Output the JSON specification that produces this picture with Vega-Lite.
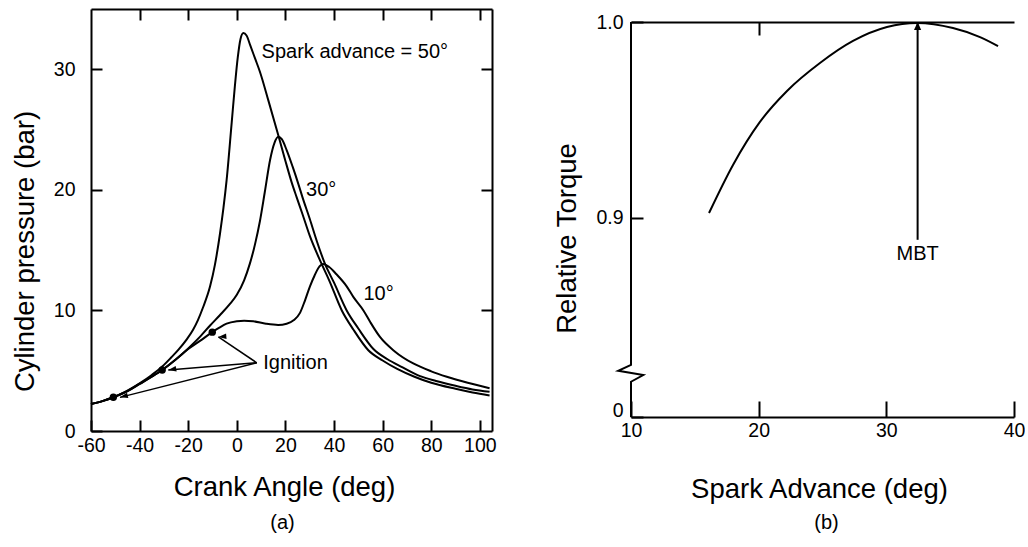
{
  "$schema": "https://vega.github.io/schema/vega-lite/v6.json",
  "background": "white",
  "padding": {"left": 11, "top": 8, "right": 0, "bottom": 0},
  "bounds": "flush",
  "spacing": 139,
  "config": {
    "font": "Liberation Sans",
    "view": {"stroke": null},
    "axis": {"domainColor": "black", "domainWidth": 2, "tickColor": "black", "tickWidth": 2, "labelColor": "black", "labelFont": "Liberation Sans", "labelFontSize": 19.5, "titleFont": "Liberation Sans", "titleFontSize": 27.5, "titleFontWeight": "normal", "titleColor": "black", "grid": false, "labelFlush": false},
    "title": {"font": "Liberation Sans", "fontSize": 20, "fontWeight": "normal", "color": "black"}
  },
  "datasets": {
    "pressure": [
      {"advance": "50°", "crank": -60, "pressure": 2.24}, {"advance": "50°", "crank": -55, "pressure": 2.5}, {"advance": "50°", "crank": -50.8, "pressure": 2.8}, {"advance": "50°", "crank": -45, "pressure": 3.35}, {"advance": "50°", "crank": -40, "pressure": 3.95}, {"advance": "50°", "crank": -35, "pressure": 4.65}, {"advance": "50°", "crank": -30.7, "pressure": 5.35}, {"advance": "50°", "crank": -27, "pressure": 6.1}, {"advance": "50°", "crank": -24, "pressure": 6.75}, {"advance": "50°", "crank": -20.6, "pressure": 7.6}, {"advance": "50°", "crank": -18, "pressure": 8.4}, {"advance": "50°", "crank": -16, "pressure": 9.2}, {"advance": "50°", "crank": -14, "pressure": 10.2}, {"advance": "50°", "crank": -11, "pressure": 12.0}, {"advance": "50°", "crank": -9, "pressure": 13.8}, {"advance": "50°", "crank": -6.9, "pressure": 16.4}, {"advance": "50°", "crank": -5.5, "pressure": 18.5}, {"advance": "50°", "crank": -4.2, "pressure": 20.8}, {"advance": "50°", "crank": -2.1, "pressure": 25.6}, {"advance": "50°", "crank": -0.8, "pressure": 28.6}, {"advance": "50°", "crank": 0.4, "pressure": 31.0}, {"advance": "50°", "crank": 1.5, "pressure": 32.5}, {"advance": "50°", "crank": 2.7, "pressure": 33.0}, {"advance": "50°", "crank": 4, "pressure": 32.8}, {"advance": "50°", "crank": 5.5, "pressure": 32.0}, {"advance": "50°", "crank": 7.5, "pressure": 30.9}, {"advance": "50°", "crank": 9.5, "pressure": 29.8}, {"advance": "50°", "crank": 13, "pressure": 27.4}, {"advance": "50°", "crank": 17.1, "pressure": 24.5}, {"advance": "50°", "crank": 20, "pressure": 22.4}, {"advance": "50°", "crank": 22.6, "pressure": 20.6}, {"advance": "50°", "crank": 24.6, "pressure": 19.4}, {"advance": "50°", "crank": 27, "pressure": 18.0}, {"advance": "50°", "crank": 30, "pressure": 16.2}, {"advance": "50°", "crank": 34.8, "pressure": 13.9}, {"advance": "50°", "crank": 38, "pressure": 12.5}, {"advance": "50°", "crank": 43.2, "pressure": 10.0}, {"advance": "50°", "crank": 48, "pressure": 8.4}, {"advance": "50°", "crank": 54.1, "pressure": 6.7}, {"advance": "50°", "crank": 60, "pressure": 5.85}, {"advance": "50°", "crank": 66, "pressure": 5.15}, {"advance": "50°", "crank": 73.1, "pressure": 4.5}, {"advance": "50°", "crank": 80, "pressure": 4.0}, {"advance": "50°", "crank": 90, "pressure": 3.5}, {"advance": "50°", "crank": 97, "pressure": 3.2}, {"advance": "50°", "crank": 104, "pressure": 2.95},
      {"advance": "30°", "crank": -60, "pressure": 2.24}, {"advance": "30°", "crank": -55, "pressure": 2.5}, {"advance": "30°", "crank": -50.8, "pressure": 2.8}, {"advance": "30°", "crank": -45, "pressure": 3.3}, {"advance": "30°", "crank": -40, "pressure": 3.9}, {"advance": "30°", "crank": -35, "pressure": 4.5}, {"advance": "30°", "crank": -30.7, "pressure": 5.06}, {"advance": "30°", "crank": -25, "pressure": 5.95}, {"advance": "30°", "crank": -20, "pressure": 6.85}, {"advance": "30°", "crank": -15, "pressure": 7.85}, {"advance": "30°", "crank": -11, "pressure": 8.75}, {"advance": "30°", "crank": -7, "pressure": 9.6}, {"advance": "30°", "crank": -3, "pressure": 10.5}, {"advance": "30°", "crank": 0, "pressure": 11.3}, {"advance": "30°", "crank": 3, "pressure": 12.5}, {"advance": "30°", "crank": 5.4, "pressure": 13.9}, {"advance": "30°", "crank": 7.5, "pressure": 15.5}, {"advance": "30°", "crank": 9.5, "pressure": 17.4}, {"advance": "30°", "crank": 11.5, "pressure": 19.8}, {"advance": "30°", "crank": 13.7, "pressure": 22.5}, {"advance": "30°", "crank": 15.5, "pressure": 23.9}, {"advance": "30°", "crank": 17.1, "pressure": 24.4}, {"advance": "30°", "crank": 18.5, "pressure": 24.2}, {"advance": "30°", "crank": 20.5, "pressure": 23.3}, {"advance": "30°", "crank": 23, "pressure": 21.9}, {"advance": "30°", "crank": 25.3, "pressure": 20.5}, {"advance": "30°", "crank": 27, "pressure": 19.4}, {"advance": "30°", "crank": 30, "pressure": 17.6}, {"advance": "30°", "crank": 33, "pressure": 15.7}, {"advance": "30°", "crank": 36.2, "pressure": 13.9}, {"advance": "30°", "crank": 40, "pressure": 12.3}, {"advance": "30°", "crank": 45.2, "pressure": 10.0}, {"advance": "30°", "crank": 50, "pressure": 8.5}, {"advance": "30°", "crank": 56.2, "pressure": 6.8}, {"advance": "30°", "crank": 62, "pressure": 5.95}, {"advance": "30°", "crank": 68, "pressure": 5.3}, {"advance": "30°", "crank": 75.4, "pressure": 4.55}, {"advance": "30°", "crank": 82, "pressure": 4.15}, {"advance": "30°", "crank": 90, "pressure": 3.75}, {"advance": "30°", "crank": 97, "pressure": 3.45}, {"advance": "30°", "crank": 104, "pressure": 3.25},
      {"advance": "10°", "crank": -60, "pressure": 2.24}, {"advance": "10°", "crank": -55, "pressure": 2.5}, {"advance": "10°", "crank": -50.8, "pressure": 2.8}, {"advance": "10°", "crank": -45, "pressure": 3.3}, {"advance": "10°", "crank": -40, "pressure": 3.9}, {"advance": "10°", "crank": -35, "pressure": 4.5}, {"advance": "10°", "crank": -30.7, "pressure": 5.06}, {"advance": "10°", "crank": -25, "pressure": 5.95}, {"advance": "10°", "crank": -20, "pressure": 6.8}, {"advance": "10°", "crank": -15, "pressure": 7.5}, {"advance": "10°", "crank": -10.1, "pressure": 8.2}, {"advance": "10°", "crank": -7, "pressure": 8.6}, {"advance": "10°", "crank": -4.2, "pressure": 8.9}, {"advance": "10°", "crank": 0, "pressure": 9.1}, {"advance": "10°", "crank": 3, "pressure": 9.15}, {"advance": "10°", "crank": 6.8, "pressure": 9.1}, {"advance": "10°", "crank": 12, "pressure": 8.9}, {"advance": "10°", "crank": 17, "pressure": 8.8}, {"advance": "10°", "crank": 20.5, "pressure": 8.9}, {"advance": "10°", "crank": 23.5, "pressure": 9.2}, {"advance": "10°", "crank": 26, "pressure": 9.8}, {"advance": "10°", "crank": 28, "pressure": 10.8}, {"advance": "10°", "crank": 30.1, "pressure": 12.0}, {"advance": "10°", "crank": 32, "pressure": 12.9}, {"advance": "10°", "crank": 33.5, "pressure": 13.5}, {"advance": "10°", "crank": 35.6, "pressure": 13.85}, {"advance": "10°", "crank": 38, "pressure": 13.6}, {"advance": "10°", "crank": 41, "pressure": 13.0}, {"advance": "10°", "crank": 45.2, "pressure": 12.0}, {"advance": "10°", "crank": 48, "pressure": 11.1}, {"advance": "10°", "crank": 52.1, "pressure": 10.0}, {"advance": "10°", "crank": 55, "pressure": 9.0}, {"advance": "10°", "crank": 58.9, "pressure": 7.8}, {"advance": "10°", "crank": 65, "pressure": 6.6}, {"advance": "10°", "crank": 72.6, "pressure": 5.6}, {"advance": "10°", "crank": 80, "pressure": 4.95}, {"advance": "10°", "crank": 86.4, "pressure": 4.5}, {"advance": "10°", "crank": 95, "pressure": 4.0}, {"advance": "10°", "crank": 104, "pressure": 3.55}
    ],
    "ignition": [
      {"advance": "50°", "crank": -50.8, "pressure": 2.8},
      {"advance": "30°", "crank": -30.7, "pressure": 5.06},
      {"advance": "10°", "crank": -10.1, "pressure": 8.2}
    ],
    "arrowsA": [
      {"target": "50°", "x0": 8.2, "y0": 5.66, "x1": -48.1, "y1": 2.79},
      {"target": "30°", "x0": 8.2, "y0": 5.66, "x1": -28.2, "y1": 5.06},
      {"target": "10°", "x0": 8.2, "y0": 5.66, "x1": -7.6, "y1": 7.8}
    ],
    "labelsA": [
      {"crank": 10.2, "pressure": 31.45, "label": "Spark advance = 50°"},
      {"crank": 28.5, "pressure": 20.0, "label": "30°"},
      {"crank": 52.1, "pressure": 11.4, "label": "10°"},
      {"crank": 10.9, "pressure": 5.6, "label": "Ignition"}
    ],
    "torque": [
      {"spark": 16.11, "torque": 0.9023}, {"spark": 17.99, "torque": 0.9269}, {"spark": 20.1, "torque": 0.9489}, {"spark": 22.22, "torque": 0.9647}, {"spark": 24.8, "torque": 0.979}, {"spark": 27.39, "torque": 0.9903}, {"spark": 30.05, "torque": 0.9974}, {"spark": 32.4, "torque": 0.9995}, {"spark": 35.22, "torque": 0.9969}, {"spark": 37.34, "torque": 0.9923}, {"spark": 38.75, "torque": 0.9877}
    ],
    "mbt": [
      {"spark": 32.45, "t0": 0.8886, "t1": 1.0, "label": "MBT", "labelT": 0.8815}
    ],
    "axisBreak": [
      {"i": 0, "spark": 10, "torque": 1.0}, {"i": 1, "spark": 10, "torque": 0.8246}, {"i": 2, "spark": 9.0, "torque": 0.8216}, {"i": 3, "spark": 10.96, "torque": 0.8194}, {"i": 4, "spark": 10, "torque": 0.816}, {"i": 5, "spark": 10, "torque": 0.798}
    ]
  },
  "hconcat": [
    {
      "width": 401,
      "height": 422,
      "title": {"text": "(a)", "orient": "bottom", "anchor": "middle", "offset": 12, "dx": -9},
      "resolve": {"axis": {"x": "independent", "y": "independent"}},
      "layer": [
        {
          "data": {"name": "pressure"},
          "mark": {"type": "line", "interpolate": "monotone", "strokeWidth": 2, "color": "black"},
          "encoding": {
            "x": {"field": "crank", "type": "quantitative", "scale": {"domain": [-60, 105], "nice": false, "zero": false},
              "axis": {"orient": "bottom", "values": [-60, -40, -20, 0, 20, 40, 60, 80, 100], "tickSize": -11, "labelPadding": 16, "labelExpr": "'' + datum.value", "title": "Crank Angle (deg)", "titleX": 193, "titleY": 56, "titleBaseline": "middle", "titleAlign": "center"}},
            "y": {"field": "pressure", "type": "quantitative", "scale": {"domain": [0, 35], "nice": false, "zero": false},
              "axis": {"orient": "left", "values": [0, 10, 20, 30], "tickSize": -11, "labelPadding": 27, "title": "Cylinder pressure (bar)", "titleX": -66, "titleY": 242, "titleBaseline": "middle", "titleAlign": "center"}},
            "detail": {"field": "advance", "type": "nominal"}
          }
        },
        {
          "data": {"name": "ignition"},
          "mark": {"type": "point", "filled": true, "color": "black", "opacity": 1, "size": 55},
          "encoding": {
            "x": {"field": "crank", "type": "quantitative", "axis": {"orient": "top", "values": [-40, -20, 0, 20, 40, 60, 80, 100], "tickSize": -11, "labels": false, "title": null}},
            "y": {"field": "pressure", "type": "quantitative", "axis": {"orient": "right", "values": [10, 20, 30], "tickSize": -11, "labels": false, "title": null}}
          }
        },
        {
          "data": {"name": "arrowsA"},
          "mark": {"type": "rule", "color": "black", "strokeWidth": 1.5},
          "encoding": {
            "x": {"field": "x0", "type": "quantitative", "axis": null},
            "y": {"field": "y0", "type": "quantitative", "axis": null},
            "x2": {"field": "x1"},
            "y2": {"field": "y1"}
          }
        },
        {
          "data": {"name": "arrowsA"},
          "mark": {"type": "point", "shape": "M0,0L-1,-0.35L-1,0.35Z", "filled": true, "color": "black", "opacity": 1, "size": 256},
          "encoding": {
            "x": {"field": "x1", "type": "quantitative", "axis": null},
            "y": {"field": "y1", "type": "quantitative", "axis": null},
            "angle": {"field": "target", "type": "nominal", "scale": {"domain": ["50°", "30°", "10°"], "range": [165.8, 175.3, 213.9]}, "legend": null}
          }
        },
        {
          "data": {"name": "labelsA"},
          "mark": {"type": "text", "align": "left", "baseline": "middle", "fontSize": 20, "color": "black", "font": "Liberation Sans"},
          "encoding": {
            "x": {"field": "crank", "type": "quantitative", "axis": null},
            "y": {"field": "pressure", "type": "quantitative", "axis": null},
            "text": {"field": "label"}
          }
        }
      ]
    },
    {
      "width": 383,
      "height": 422,
      "title": {"text": "(b)", "orient": "bottom", "anchor": "middle", "offset": 10, "dx": 4},
      "resolve": {"axis": {"x": "independent", "y": "independent"}},
      "layer": [
        {
          "data": {"name": "torque"},
          "mark": {"type": "line", "interpolate": "monotone", "strokeWidth": 2, "color": "black"},
          "encoding": {
            "x": {"field": "spark", "type": "quantitative", "scale": {"domain": [10, 40], "nice": false, "zero": false},
              "axis": {"orient": "bottom", "offset": -14, "values": [10, 20, 30, 40], "tickSize": -16, "labelPadding": 20, "title": "Spark Advance (deg)", "titleX": 188, "titleY": 72, "titleBaseline": "middle", "titleAlign": "center"}},
            "y": {"field": "torque", "type": "quantitative", "scale": {"domain": [0.7908, 1.00665], "nice": false, "zero": false},
              "axis": {"orient": "left", "domain": false, "values": [0.798, 0.9, 1.0], "tickSize": -12, "labelPadding": 20, "labelOffset": {"condition": {"test": "datum.value < 0.85", "value": -6}, "value": 0}, "labelExpr": "datum.value < 0.85 ? '0' : format(datum.value, '.1f')", "title": "Relative Torque", "titleX": -64, "titleY": 229, "titleBaseline": "middle", "titleAlign": "center"}}
          }
        },
        {
          "data": {"name": "axisBreak"},
          "mark": {"type": "line", "color": "black", "strokeWidth": 2, "interpolate": "linear"},
          "encoding": {
            "x": {"field": "spark", "type": "quantitative", "axis": {"orient": "top", "offset": -13, "values": [20], "tickSize": -13, "labels": false, "title": null}},
            "y": {"field": "torque", "type": "quantitative", "axis": null},
            "order": {"field": "i", "type": "quantitative"}
          }
        },
        {
          "mark": {"type": "rule", "color": "black", "strokeWidth": 2},
          "encoding": {
            "x": {"datum": 40, "type": "quantitative", "axis": null},
            "y": {"datum": 0.798, "type": "quantitative", "axis": null},
            "y2": {"datum": 1.0}
          }
        },
        {
          "data": {"name": "mbt"},
          "mark": {"type": "rule", "color": "black", "strokeWidth": 2},
          "encoding": {
            "x": {"field": "spark", "type": "quantitative", "axis": null},
            "y": {"field": "t0", "type": "quantitative", "axis": null},
            "y2": {"field": "t1"}
          }
        },
        {
          "data": {"name": "mbt"},
          "mark": {"type": "point", "shape": "M0,0L-1,-0.45L-1,0.45Z", "filled": true, "color": "black", "opacity": 1, "size": 256, "angle": 270},
          "encoding": {
            "x": {"field": "spark", "type": "quantitative", "axis": null},
            "y": {"field": "t1", "type": "quantitative", "axis": null}
          }
        },
        {
          "data": {"name": "mbt"},
          "mark": {"type": "text", "align": "center", "baseline": "middle", "fontSize": 20, "color": "black", "font": "Liberation Sans"},
          "encoding": {
            "x": {"field": "spark", "type": "quantitative", "axis": null},
            "y": {"field": "labelT", "type": "quantitative", "axis": null},
            "text": {"field": "label"}
          }
        }
      ]
    }
  ]
}
